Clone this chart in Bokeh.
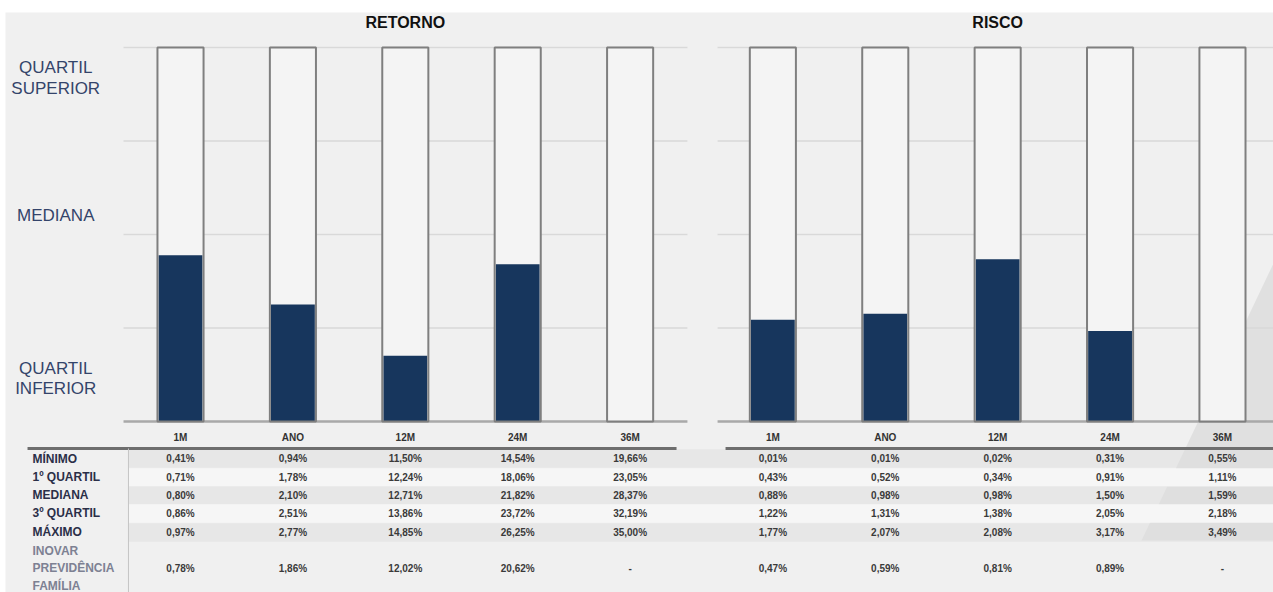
import numpy as np
from bokeh.plotting import figure
from bokeh.models import Range1d, ColumnDataSource
from bokeh.core.properties import value
from bokeh.embed import file_html
from bokeh.resources import INLINE

# ---------------- data ----------------
categories = ["1M", "ANO", "12M", "24M", "36M"]
panel_titles = ["RETORNO", "RISCO"]

ret_min = [0.41, 0.94, 11.50, 14.54, 19.66]
ret_q1 = [0.71, 1.78, 12.24, 18.06, 23.05]
ret_med = [0.80, 2.10, 12.71, 21.82, 28.37]
ret_q3 = [0.86, 2.51, 13.86, 23.72, 32.19]
ret_max = [0.97, 2.77, 14.85, 26.25, 35.00]
ret_fund = [0.78, 1.86, 12.02, 20.62, None]

risk_min = [0.01, 0.01, 0.02, 0.31, 0.55]
risk_q1 = [0.43, 0.52, 0.34, 0.91, 1.11]
risk_med = [0.88, 0.98, 0.98, 1.50, 1.59]
risk_q3 = [1.22, 1.31, 1.38, 2.05, 2.18]
risk_max = [1.77, 2.07, 2.08, 3.17, 3.49]
risk_fund = [0.47, 0.59, 0.81, 0.89, None]

row_labels = ["MÍNIMO", "1º QUARTIL", "MEDIANA", "3º QUARTIL", "MÁXIMO"]
fund_label = ["INOVAR", "PREVIDÊNCIA", "FAMÍLIA"]
scale_labels = ["QUARTIL", "SUPERIOR", "MEDIANA", "QUARTIL", "INFERIOR"]

# ---------------- style / layout ----------------
FONT = "Liberation Sans"
NAVY = "#17365d"
BG = "#f0f0f0"
OUTLINE = "#7f7f7f"
GRID = "#d9d9d9"

panel_offsets = [0.0, 5.27]          # x offset of each panel (slot units)
bar_w = 0.41
nav_w = 0.39
quart_levels = [0, 1, 2, 3, 4]       # scale: min, Q1, median, Q3, max

header_y = -0.171
line_y = -0.289
row_y = [-0.396, -0.599, -0.791, -0.984, -1.187]
fund_y = [-1.390, -1.572, -1.755]
row_half = 0.099

p = figure(width=1273, height=592,
           x_range=Range1d(-1.557, 9.724), y_range=Range1d(-1.829, 4.374),
           x_axis_type=None, y_axis_type=None,
           output_backend="svg", toolbar_location=None,
           min_border_left=5, min_border_right=0, min_border_bottom=0, min_border_top=12,
           background_fill_color=BG, border_fill_color="white")
p.outline_line_color = None

# decorative background triangle (right side)
p.patch(x=[9.724, 8.55, 10.2, 10.2], y=[1.69, -1.273, -1.273, 1.69],
        fill_color="#e0e0e0", line_color=None)

# table row bands
band_l, band_r = -0.463, 10.2
for i, y in enumerate(row_y):
    if i % 2 == 0:
        p.quad(left=band_l, right=band_r, bottom=y - row_half, top=y + row_half,
               fill_color="#dedede", fill_alpha=0.5, line_color=None)
    else:
        p.quad(left=band_l, right=band_r, bottom=y - row_half, top=y + row_half,
               fill_color="#f6f6f6", line_color=None)

# gridlines per panel
grid_ext = [(-0.507, 4.51), (4.778, 10.2)]
for (gx0, gx1) in grid_ext:
    p.segment(x0=[gx0] * 4, x1=[gx1] * 4, y0=quart_levels[1:], y1=quart_levels[1:],
              line_color=GRID, line_width=1.5)
    p.segment(x0=[gx0], x1=[gx1], y0=[0], y1=[0], line_color="#a9a9a9", line_width=2.5)

# header underline per panel
hdr_ext = [(-1.361, 4.413), (4.849, 10.2)]
for (hx0, hx1) in hdr_ext:
    p.segment(x0=[hx0], x1=[hx1], y0=[line_y], y1=[line_y], line_color="#6e6e6e", line_width=3)
# vertical separator in table
p.segment(x0=[-0.463], x1=[-0.463], y0=[line_y], y1=[-1.9], line_color="#c4c4c4", line_width=1)

panels = [
    (ret_min, ret_q1, ret_med, ret_q3, ret_max, ret_fund),
    (risk_min, risk_q1, risk_med, risk_q3, risk_max, risk_fund),
]


def fmt(v):
    if v is None:
        return "-"
    return f"{v:.2f}".replace(".", ",") + "%"


for (off, title, data) in zip(panel_offsets, panel_titles, panels):
    mins, q1s, meds, q3s, maxs, fund = data
    xs = [off + i for i in range(len(categories))]
    pos = []
    for j in range(len(categories)):
        if fund[j] is None:
            pos.append(np.nan)
        else:
            pos.append(float(np.interp(fund[j], [mins[j], q1s[j], meds[j], q3s[j], maxs[j]], quart_levels)))
    src = ColumnDataSource(dict(x=xs, top=[quart_levels[-1]] * len(xs),
                                pos=[0 if np.isnan(v) else v for v in pos],
                                cat=categories))
    # empty bar body
    p.vbar(x="x", width=bar_w, bottom=0, top="top", source=src,
           fill_color="#f4f4f4", line_color=None)
    # fund position fill
    p.vbar(x="x", width=nav_w, bottom=0, top="pos", source=src,
           fill_color=NAVY, line_color=None)
    # outline
    p.vbar(x="x", width=bar_w, bottom=0, top="top", source=src,
           fill_color=None, line_color=OUTLINE, line_width=2)

    # panel title
    p.text(x=[off + 2], y=[4.267], text=[title], text_font=value(FONT),
           text_font_size="16px", text_font_style="bold", text_color="#111111",
           text_align="center", text_baseline="middle")

    # table header
    p.text(x="x", y=header_y, text="cat", source=src, text_font=value(FONT),
           text_font_size="10px", text_font_style="bold", text_color="#333333",
           text_align="center", text_baseline="middle")

    # table values
    cols = [mins, q1s, meds, q3s, maxs]
    tx, ty, tt = [], [], []
    for r, col in enumerate(cols):
        for j, v in enumerate(col):
            tx.append(xs[j]); ty.append(row_y[r]); tt.append(fmt(v))
    p.text(x=tx, y=ty, text=tt, text_font=value(FONT), text_font_size="10px",
           text_font_style="bold", text_color="#3a3a3a",
           text_align="center", text_baseline="middle")
    p.text(x=xs, y=[fund_y[1]] * len(xs), text=[fmt(v) for v in fund],
           text_font=value(FONT), text_font_size="10px", text_font_style="bold",
           text_color="#3a3a3a", text_align="center", text_baseline="middle")

# row labels
p.text(x=[-1.317] * len(row_labels), y=row_y, text=row_labels, text_font=value(FONT),
       text_font_size="12px", text_font_style="bold", text_color="#2b2f48",
       text_align="left", text_baseline="middle")
p.text(x=[-1.317] * len(fund_label), y=fund_y, text=fund_label, text_font=value(FONT),
       text_font_size="12px", text_font_style="bold", text_color="#7d8193",
       text_align="left", text_baseline="middle")

# scale labels (left side)
scale_y = [3.79, 3.565, 2.20, 0.567, 0.353]
p.text(x=[-1.11] * len(scale_labels), y=scale_y, text=scale_labels, text_font=value(FONT),
       text_font_size="17px", text_color="#34446a",
       text_align="center", text_baseline="middle")

open("out.html", "w").write(file_html(p, INLINE))
